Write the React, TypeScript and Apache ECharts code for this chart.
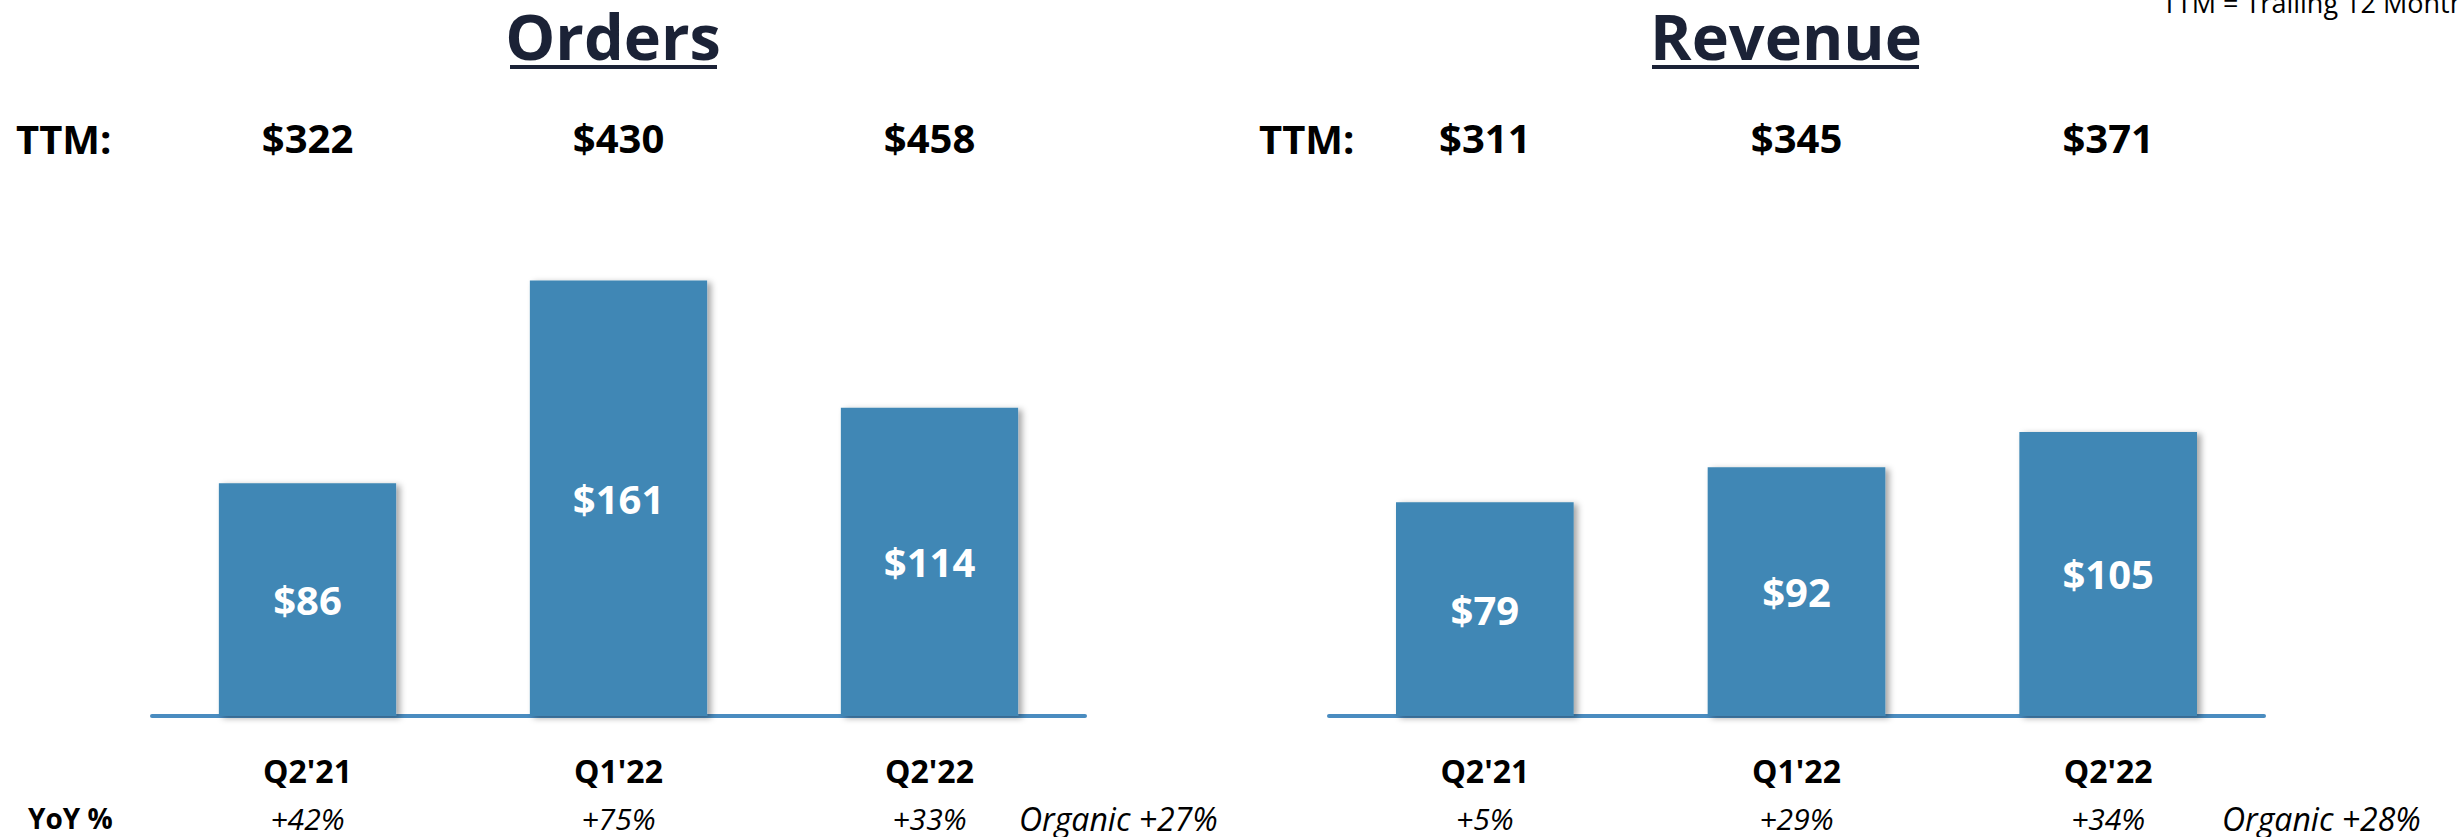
import React, { useEffect, useRef } from "react";
import * as echarts from "echarts";

const categories = ["Q2'21", "Q1'22", "Q2'22"];
const ordersValues = [86, 161, 114];
const revenueValues = [79, 92, 105];
const ordersTTM = ["$322", "$430", "$458"];
const revenueTTM = ["$311", "$345", "$371"];
const ordersYoY = ["+42%", "+75%", "+33%"];
const revenueYoY = ["+5%", "+29%", "+34%"];
const organicLabels = ["Organic +27%", "Organic +28%"];
const panelTitles = ["Orders", "Revenue"];
const ttmLabel = "TTM:";
const yoyLabel = "YoY %";
const footnote = "TTM = Trailing 12 Months";

const FONT = "'Open Sans', 'Noto Sans', sans-serif";
const BAR = "#3F87B5";
const NAVY = "#1B2236";

export default function App() {
  const ref = useRef<HTMLDivElement>(null);
  useEffect(() => {
    if (!ref.current) return;
    const chart = echarts.init(ref.current, undefined, { renderer: "svg" });
    const grids = [
      { left: 152, width: 933, top: 175, height: 541 },
      { left: 1329, width: 935, top: 175, height: 541 },
    ];
    const valueSets = [ordersValues, revenueValues];
    const ttmSets = [ordersTTM, revenueTTM];
    const yoySets = [ordersYoY, revenueYoY];

    const xAxis: any[] = [];
    const yAxis: any[] = [];
    const series: any[] = [];
    grids.forEach((_, i) => {
      const base = xAxis.length;
      xAxis.push({
        type: "category",
        gridIndex: i,
        position: "bottom",
        data: categories,
        axisLine: { show: true, lineStyle: { color: "#4A8CC0", width: 4 } },
        axisTick: { show: false },
        axisLabel: { fontFamily: FONT, fontWeight: "bold", fontSize: 32, lineHeight: 34, color: "#000", margin: 37 },
      });
      xAxis.push({
        type: "category",
        gridIndex: i,
        position: "bottom",
        data: yoySets[i],
        axisLine: { show: false },
        axisTick: { show: false },
        axisLabel: { fontFamily: FONT, fontStyle: "italic", fontSize: 30, lineHeight: 30, color: "#000", margin: 87 },
      });
      xAxis.push({
        type: "category",
        gridIndex: i,
        position: "top",
        data: ttmSets[i],
        axisLine: { show: false },
        axisTick: { show: false },
        axisLabel: { fontFamily: FONT, fontWeight: "bold", fontSize: 40, color: "#000", margin: 18 },
      });
      yAxis.push({
        type: "value",
        gridIndex: i,
        min: 0,
        max: 200,
        show: false,
        splitLine: { show: false },
      });
      series.push({
        type: "bar",
        xAxisIndex: base,
        yAxisIndex: i,
        data: valueSets[i],
        barWidth: "57%",
        itemStyle: {
          color: BAR,
          shadowColor: "rgba(0,0,0,0.35)",
          shadowBlur: 6,
          shadowOffsetX: 4,
          shadowOffsetY: 2,
        },
        label: {
          show: true,
          position: "inside",
          formatter: "${c}",
          color: "#fff",
          fontFamily: FONT,
          fontWeight: "bold",
          fontSize: 40,
        },
      });
    });

    const titleCenters = [613, 1786];
    const underlines = [
      { x: 510, w: 207 },
      { x: 1652, w: 267 },
    ];
    const graphic: any[] = [];
    panelTitles.forEach((t, i) => {
      graphic.push({
        type: "text",
        x: titleCenters[i],
        y: 35,
        style: {
          text: t,
          fontFamily: FONT,
          fontWeight: "bold",
          fontSize: 63,
          lineHeight: 64,
          fill: NAVY,
          align: "center",
          verticalAlign: "middle",
        },
      });
      graphic.push({
        type: "rect",
        shape: { x: underlines[i].x, y: 65, width: underlines[i].w, height: 4 },
        style: { fill: NAVY },
      });
    });
    [16, 1259].forEach((x) => {
      graphic.push({
        type: "text",
        x,
        y: 138,
        style: { text: ttmLabel, fontFamily: FONT, fontWeight: "bold", fontSize: 40, fill: "#000", align: "left", verticalAlign: "middle" },
      });
    });
    graphic.push({
      type: "text",
      x: 28,
      y: 818,
      style: { text: yoyLabel, fontFamily: FONT, fontWeight: "bold", fontSize: 28, lineHeight: 28, fill: "#000", align: "left", verticalAlign: "middle" },
    });
    [1019, 2222].forEach((x, i) => {
      graphic.push({
        type: "text",
        x,
        y: 818,
        style: { text: organicLabels[i], fontFamily: FONT, fontStyle: "italic", fontSize: 32, lineHeight: 32, fill: "#000", align: "left", verticalAlign: "middle" },
      });
    });
    graphic.push({
      type: "text",
      x: 2162,
      y: 2,
      style: { text: footnote, fontFamily: FONT, fontSize: 27, lineHeight: 27, fill: "#000", align: "left", verticalAlign: "middle" },
    });

    chart.setOption({
      animation: false,
      backgroundColor: "#fff",
      grid: grids.map((g) => ({ ...g, containLabel: false })),
      xAxis,
      yAxis,
      series,
      graphic,
    });
    return () => chart.dispose();
  }, []);
  return (
    <div
      ref={ref}
      style={{ position: "fixed", left: 0, top: 0, width: 2458, height: 837 }}
    />
  );
}
